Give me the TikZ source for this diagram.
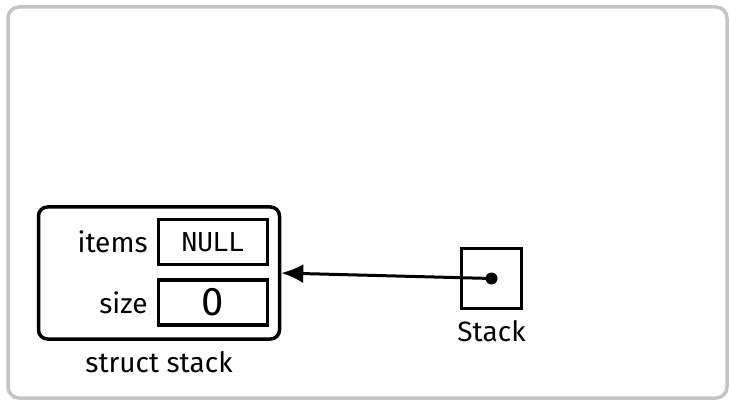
\documentclass[tikz,border=0pt]{standalone}
\usepackage{fontspec}
\setmainfont{Fira Sans}
\newfontfamily\fieldmono{DejaVu Sans Mono}
\usetikzlibrary{positioning}
\usetikzlibrary{arrows.meta}

\definecolor{framegray}{HTML}{C4C4C4}

\tikzset{
  lbl/.style={inner sep=0pt, font=\fontsize{28}{32}\selectfont},
  field/.style={draw, line width=3.5pt, minimum width=109pt, minimum height=45pt, inner sep=0pt},
}

\begin{document}
\begin{tikzpicture}[x=1pt, y=-1pt, node distance=10pt]
  \useasboundingbox (0,0) rectangle (729,401);
  \draw[framegray, line width=3.5pt, rounded corners=11pt] (8,7) rectangle (727,398);

  % the struct and its two fields
  \node[draw, line width=3.5pt, rounded corners=9pt, minimum width=241pt, minimum height=132pt] (stackst) at (159,273) {};
  \node[field, font=\fieldmono\fontsize{26}{30}\selectfont] (items) at (213,242) {NULL};
  \node[field, font=\fontsize{40}{44}\selectfont] (size) at (213,302.5) {0};
  \node[lbl, left=9pt of items] (itemslbl) {items};
  \node[lbl, left=9pt of size] (sizelbl) {size};
  \node[lbl, below=11pt of stackst] (stlbl) {struct stack};

  % the pointer variable
  \node[draw, line width=3.5pt, minimum size=60pt, inner sep=0pt] (ptr) at (491.5,278.5) {};
  \node[lbl, below=10pt of ptr] (ptrlbl) {Stack};
  \fill (ptr.center) circle (6pt);
  \draw[line width=3pt, -{Latex[length=22pt, width=19pt]}] (ptr.center) -- (stackst.east);
\end{tikzpicture}
\end{document}
